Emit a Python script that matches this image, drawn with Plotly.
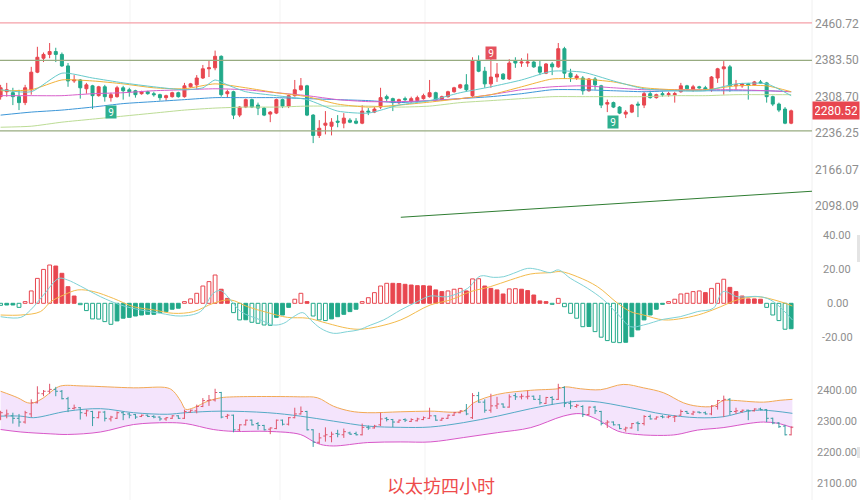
import math
import plotly.graph_objects as go

# ---------------- data ----------------
opens = [2309,2319,2317,2309,2297,2323,2359,2388,2396,2402,2396,2372,2341,2343,2325,2331,2311,2329,2307,2309,
         2327,2323,2321,2315,2319,2315,2313,2307,2309,2317,2309,2329,2333,2347,2366,2368,2392,2315,2319,2272,
         2288,2303,2292,2286,2274,2276,2303,2290,2311,2323,2331,2272,2232,2252,2250,2260,2256,2262,2260,2256,
         2280,2278,2288,2309,2305,2297,2305,2299,2301,2305,2309,2317,2303,2309,2319,2327,2333,2311,2382,2361,
         2335,2349,2355,2345,2382,2378,2378,2380,2370,2357,2376,2370,2408,2357,2347,2347,2321,2345,2331,2294,
         2297,2288,2274,2278,2294,2292,2315,2307,2315,2313,2313,2319,2331,2323,2329,2327,2323,2347,2366,2370,
         2331,2331,2335,2333,2339,2337,2309,2294,2284,2256]
highs = [2333,2337,2327,2323,2333,2370,2412,2400,2420,2410,2400,2378,2353,2345,2337,2333,2331,2333,2317,2331,
         2331,2327,2323,2321,2321,2319,2315,2313,2319,2319,2337,2337,2353,2374,2384,2404,2394,2323,2321,2290,
         2305,2305,2297,2288,2280,2305,2305,2313,2343,2347,2333,2274,2262,2280,2266,2272,2276,2266,2266,2292,
         2286,2288,2327,2313,2307,2305,2309,2309,2311,2315,2343,2319,2311,2321,2329,2335,2355,2390,2394,2370,
         2388,2378,2357,2386,2390,2388,2398,2382,2384,2378,2380,2420,2412,2366,2355,2351,2347,2349,2333,2303,
         2299,2290,2282,2294,2299,2319,2321,2315,2319,2319,2319,2337,2333,2333,2331,2331,2351,2368,2382,2374,
         2343,2337,2337,2341,2343,2339,2311,2297,2288,2283]
lows = [2303,2309,2292,2282,2292,2313,2357,2380,2388,2380,2370,2329,2337,2305,2315,2284,2309,2299,2299,2307,
        2303,2309,2307,2313,2313,2309,2301,2301,2307,2307,2307,2327,2325,2345,2349,2363,2309,2307,2264,2268,
        2286,2286,2272,2270,2258,2274,2286,2286,2309,2321,2270,2217,2227,2234,2232,2248,2246,2256,2254,2254,
        2272,2276,2284,2299,2280,2294,2297,2297,2299,2303,2307,2301,2301,2307,2317,2325,2319,2307,2359,2327,
        2327,2339,2343,2343,2368,2370,2370,2368,2353,2355,2353,2368,2345,2339,2343,2313,2319,2323,2286,2278,
        2286,2274,2266,2276,2268,2286,2305,2305,2309,2309,2297,2317,2323,2319,2325,2321,2319,2337,2313,2319,
        2323,2327,2303,2331,2335,2297,2290,2278,2254,2254]
closes = [2327,2323,2309,2297,2327,2359,2390,2396,2402,2396,2372,2341,2343,2327,2333,2311,2329,2309,2313,2327,
          2321,2319,2313,2319,2315,2313,2307,2311,2317,2309,2331,2335,2347,2366,2368,2392,2313,2319,2272,2288,
          2303,2288,2286,2272,2278,2303,2290,2311,2323,2331,2272,2232,2246,2256,2258,2258,2266,2258,2256,2280,
          2278,2284,2307,2305,2297,2303,2303,2305,2307,2311,2317,2303,2309,2319,2327,2333,2323,2382,2361,2335,
          2349,2355,2345,2378,2378,2380,2380,2370,2359,2376,2370,2408,2357,2349,2351,2321,2345,2333,2292,2297,
          2288,2276,2278,2292,2292,2315,2307,2313,2313,2315,2315,2331,2325,2329,2327,2323,2349,2366,2370,2331,
          2333,2335,2333,2339,2337,2309,2294,2282,2256,2280.52]
idx = list(range(len(closes)))

# moving averages on the candle panel (read at sample indices)
ma_idx = [0,5,10,15,20,25,30,35,40,45,50,55,60,65,70,75,80,85,90,95,100,105,110,115,120,125,129]
ma_fast_idx = [0,5,10,15,20,25,30,33,35,37,40,45,50,55,60,65,70,75,80,85,90,95,100,105,110,115,120,125,129]
ma_fast = [2323,2319,2357,2347,2337,2329,2323,2327,2343,2333,2319,2311,2303,2280,2276,2292,2301,2317,2329,2343,
           2361,2359,2341,2325,2321,2321,2335,2335,2311]
ma_orange = [2321,2323,2343,2341,2335,2327,2325,2335,2327,2317,2309,2294,2288,2292,2298,2305,2313,2329,2345,2345,
             2339,2327,2323,2323,2331,2331,2319]
ma_magenta = [2311,2311,2311,2315,2317,2321,2323,2325,2323,2317,2311,2303,2299,2299,2301,2305,2313,2323,2329,2331,
              2327,2323,2323,2323,2323,2321,2319]
ma_blue = [2272,2278,2282,2288,2295,2299,2303,2307,2307,2307,2305,2303,2301,2297,2301,2305,2309,2315,2323,2323,
           2321,2319,2321,2321,2321,2321,2319]
ma_lgreen = [2248,2250,2258,2264,2270,2276,2282,2286,2288,2288,2290,2290,2290,2288,2290,2297,2301,2305,2309,2309,
             2309,2309,2311,2311,2313,2313,2313]

# level lines and trend line
level_pink = 2463.0
level_green = [2383.5, 2241.0]
trend_idx = [65.3, 132.4]
trend_price = [2077.6, 2125.5]
last_price = 2280.52
main_ticks = [2460.72, 2383.50, 2308.70, 2236.25, 2166.07, 2098.09]

# TD sequential marks
td_idx = [18, 80, 100]
td_price = [2278, 2400, 2258]
td_up = [False, True, False]

# MACD
macd_hist = [-1.2,-1.0,-1.0,-2.4,1.0,7.3,14.7,20.0,22.6,22.0,17.7,9.8,4.3,-0.8,-4.3,-9.2,-9.3,-10.8,-12.4,-10.4,
             -8.8,-8.3,-7.5,-6.9,-6.5,-6.5,-5.5,-4.9,-3.5,-2.9,1.0,2.6,5.9,10.2,12.8,16.7,8.3,2.9,-5.5,-9.8,
             -9.7,-11.2,-11.8,-12.8,-13.0,-8.3,-6.9,-2.4,2.4,5.9,1.0,-7.5,-9.8,-10.2,-9.2,-7.9,-6.5,-4.9,-3.5,1.0,
             3.3,6.3,10.2,11.8,11.8,11.7,11.2,10.8,10.4,10.4,10.2,7.9,6.9,7.3,8.3,8.8,7.3,14.4,14.5,10.2,
             8.8,7.9,5.5,8.5,8.6,8.3,7.5,4.9,1.4,1.0,-0.6,2.9,-2.0,-5.9,-8.8,-13.8,-13.7,-16.7,-20.0,-22.0,
             -23.0,-23.2,-23.0,-19.7,-15.7,-9.8,-6.9,-3.5,-0.6,1.0,2.4,5.5,5.9,6.9,7.3,6.3,8.8,11.8,14.2,9.4,
             6.9,4.3,2.6,2.6,2.4,-2.4,-6.9,-10.2,-15.3,-15.0]
dif_idx = [0,3.3,4.9,7,9.5,10.9,13,16.3,19.6,22.8,26.1,29.4,32.6,34.7,35.9,37.5,39.2,42.4,44.5,46.2,47.8,49.3,
           50.6,52.2,54.3,56.6,58.4,60.4,62.5,65.3,68,70.1,72.9,76.2,78.3,80.4,82.1,83.7,86,87.6,89.7,91,93,
           95.8,98.4,101.1,102.8,104.9,108.2,110.9,113.7,116.3,117.9,120.2,124,126.1,129.2]
dif = [-7.9,-8.3,-3.9,4.9,14.7,13.8,10.2,3.9,-1,-3.9,-5.9,-7.5,-4.9,5.9,7.5,2,-4.9,-9.8,-12.8,-11.8,-7.9,-5.5,
       -9.8,-14.7,-17.7,-16.7,-15.7,-12.8,-9.8,-3.9,1,4.3,3.9,8.8,16.1,15.3,15.7,17.7,20.6,20,18.1,19.7,14.7,
       8.8,2,-7.9,-13.8,-12.8,-9.4,-7.9,-4.9,-2.9,6.9,3.9,3.9,1,-9.8]
dea_idx = [0,3.3,6.5,8.2,10.3,12.6,15.2,18.4,21.7,25,28.2,31.5,34.7,37.5,40.3,43.6,46.8,50.1,53.3,56.6,58.7,
           61.5,65.3,70.1,73.4,76.7,79.9,83.2,86.5,89.7,91.4,94.1,97.4,100.7,102.8,104.9,108.2,111.4,114.7,
           117.5,120.2,123.5,127.2,129.2]
dea = [-6.9,-6.9,-4.9,1,4.9,7.9,6.9,2.9,-2,-3.9,-5.9,-4.9,0,2,-2,-5.5,-8.3,-8.8,-11.8,-14.7,-15.3,-13.8,-9.8,
       -1,2,6.9,9.8,13.8,17.3,18.1,18.7,15.7,9.8,0,-4.9,-6.9,-9.8,-8.8,-5.9,-2,2,3.9,1,-1.6]
macd_ticks = [40, 20, 0, -20]

# Bollinger bands
bb_up_idx = [0,2.8,4.4,5.4,7.0,8.6,9.8,13.5,21.7,27.2,28.2,29.4,30.2,31.5,33.8,35.9,38.0,48.9,51.7,54.3,57.1,
             59.9,65.3,70.1,75.5,77.2,81.1,86.5,90.9,92.2,94.6,97.9,101.6,104.9,108.2,111.4,113.7,116.3,117.9,
             119.1,124.5,127.2,129.2]
bb_up = [2396,2375,2359,2359,2375,2400,2413,2413,2407,2407,2396,2364,2338,2343,2364,2375,2378,2378,2375,2348,2332,
         2327,2330,2332,2332,2359,2386,2399,2404,2410,2404,2401,2418,2407,2391,2359,2348,2348,2366,2367,2361,2367,2370]
bb_mid_idx = [0,3.3,5.4,10.9,16.3,21.7,27.2,30.2,35.9,43.6,48.9,54.3,59.9,65.3,70.1,75.5,81.1,86.5,91.8,96.2,
              102.8,108.2,113.7,117.9,121.9,124.5,129.2]
bb_mid = [2316,2316,2311,2332,2340,2327,2322,2327,2332,2327,2316,2300,2284,2280,2281,2295,2316,2340,2359,2364,
          2343,2322,2311,2314,2332,2335,2325]
bb_low_idx = [0,3.3,8.2,10.9,16.3,21.7,27.2,30.2,34.7,38.0,43.6,48.9,50.9,52.2,54.3,59.9,65.3,70.1,75.5,81.1,
              86.5,91.8,94.6,97.4,100.7,103.9,108.2,110.4,113.7,117.9,122.3,124.5,126.8,129.2]
bb_low = [2273,2265,2259,2257,2265,2289,2295,2292,2273,2267,2267,2257,2236,2225,2220,2231,2233,2233,2247,2263,
          2279,2316,2324,2305,2268,2257,2254,2257,2271,2279,2293,2297,2293,2279]
bb_ticks = [2400, 2300, 2200, 2100]

title_text = "以太坊四小时"

# ---------------- styles ----------------
RED = "#e8464f"
GREEN = "#22a98a"
W, H = 860, 500
PLOT_R = 812
XR = [-0.1, 132.4]
FONT = "Roboto"
LBL = "#8e8e8e"
TICK = 0.35

fig = go.Figure()

# main panel -------------------------------------------------
fig.add_trace(go.Scatter(x=[XR[0], XR[1]], y=[level_pink]*2, mode="lines",
                         line=dict(color="#f5a0a8", width=1.2), xaxis="x", yaxis="y"))
for lv in level_green:
    fig.add_trace(go.Scatter(x=[XR[0], XR[1]], y=[lv]*2, mode="lines",
                             line=dict(color="#97ab80", width=1.3), xaxis="x", yaxis="y"))
fig.add_trace(go.Scatter(x=trend_idx, y=trend_price, mode="lines",
                         line=dict(color="#2f7d32", width=1), xaxis="x", yaxis="y"))
ma_specs = [(ma_idx, ma_lgreen, "#bcdc95"), (ma_idx, ma_blue, "#3d97d8"),
            (ma_idx, ma_magenta, "#d85fcb"), (ma_idx, ma_orange, "#f2b23a"),
            (ma_fast_idx, ma_fast, "#66cacb")]
for xs, ys, c in ma_specs:
    fig.add_trace(go.Scatter(x=xs, y=ys, mode="lines", line=dict(color=c, width=1, shape="spline", smoothing=0.6),
                             xaxis="x", yaxis="y"))
fig.add_trace(go.Candlestick(x=idx, open=opens, high=highs, low=lows, close=closes,
                             increasing=dict(line=dict(color=RED, width=1), fillcolor=RED),
                             decreasing=dict(line=dict(color=GREEN, width=1), fillcolor=GREEN),
                             whiskerwidth=0, xaxis="x", yaxis="y"))

# MACD panel -------------------------------------------------
fills, lines_c = [], []
prev = 0.0
for h in macd_hist:
    col = RED if h >= 0 else GREEN
    growing = (h * prev <= 0) or (abs(h) > abs(prev))
    fills.append("#ffffff" if growing else col)
    lines_c.append(col)
    prev = h
fig.add_trace(go.Bar(x=idx, y=macd_hist, width=0.62,
                     marker=dict(color=fills, line=dict(color=lines_c, width=1)),
                     xaxis="x2", yaxis="y2"))
fig.add_trace(go.Scatter(x=dea_idx, y=dea, mode="lines", line=dict(color="#f3bb4c", width=1, shape="spline"),
                         xaxis="x2", yaxis="y2"))
fig.add_trace(go.Scatter(x=dif_idx, y=dif, mode="lines", line=dict(color="#7fd2d6", width=1, shape="spline"),
                         xaxis="x2", yaxis="y2"))

# Bollinger panel --------------------------------------------
fig.add_trace(go.Scatter(x=bb_up_idx + bb_low_idx[::-1], y=bb_up + bb_low[::-1], mode="lines",
                         fill="toself", fillcolor="#f4e4fc", line=dict(width=0, color="rgba(0,0,0,0)"),
                         xaxis="x3", yaxis="y3"))
fig.add_trace(go.Scatter(x=bb_up_idx, y=bb_up, mode="lines", line=dict(color="#f2a955", width=1, shape="spline"),
                         xaxis="x3", yaxis="y3"))
fig.add_trace(go.Scatter(x=bb_low_idx, y=bb_low, mode="lines", line=dict(color="#d858c8", width=1, shape="spline"),
                         xaxis="x3", yaxis="y3"))
fig.add_trace(go.Scatter(x=bb_mid_idx, y=bb_mid, mode="lines", line=dict(color="#55aac6", width=1, shape="spline"),
                         xaxis="x3", yaxis="y3"))

# OHLC bars drawn as line segments so they sit above the band fill
for up, col in [(True, "#e0566c"), (False, "#3a9ea4")]:
    xs, ys = [], []
    for i, o, h, l, c in zip(idx, opens, highs, lows, closes):
        if (c >= o) != up:
            continue
        xs += [i, i, None, i - TICK, i, None, i, i + TICK, None]
        ys += [l, h, None, o, o, None, c, c, None]
    fig.add_trace(go.Scatter(x=xs, y=ys, mode="lines", line=dict(color=col, width=1),
                             connectgaps=False, xaxis="x3", yaxis="y3"))

# ---------------- layout ----------------
xdom = [0, PLOT_R / W]
ax_common = dict(domain=xdom, range=XR, visible=False, showgrid=False, zeroline=False, fixedrange=True)
main_range = [math.log10(2063.6), math.log10(2512.9)]
fig.update_layout(
    width=W, height=H, margin=dict(l=0, r=0, t=0, b=0),
    paper_bgcolor="white", plot_bgcolor="white", showlegend=False, hovermode=False,
    xaxis=dict(**ax_common, anchor="y", rangeslider=dict(visible=False)),
    xaxis2=dict(**ax_common, anchor="y2"),
    xaxis3=dict(**ax_common, anchor="y3"),
    yaxis=dict(type="log", domain=[0.55, 1.0], range=main_range, showgrid=False, zeroline=False,
               showticklabels=False, anchor="x"),
    yaxis2=dict(domain=[0.29, 0.55], range=[-30.5, 46.2], showgrid=False, zeroline=False,
                showticklabels=False, anchor="x2"),
    yaxis3=dict(domain=[0.0, 0.28], range=[2046.3, 2496.5], showgrid=False, zeroline=False,
                showticklabels=False, anchor="x3"),
    font=dict(family=FONT),
)

shapes = []
for px in [130, 280, 425]:
    shapes.append(dict(type="line", xref="paper", yref="paper", x0=px / W, x1=px / W, y0=0, y1=1,
                       line=dict(color="#f3f3f3", width=1), layer="below"))
shapes.append(dict(type="line", xref="paper", yref="paper", x0=PLOT_R / W, x1=PLOT_R / W, y0=0, y1=1,
                   line=dict(color="#f0f0f0", width=1), layer="below"))
shapes.append(dict(type="rect", xref="paper", yref="paper", x0=857 / W, x1=1, y0=1 - 262 / H, y1=1 - 235 / H,
                   fillcolor="#e4e4e4", line=dict(width=0)))
shapes.append(dict(type="rect", xref="paper", yref="paper", x0=857 / W, x1=1, y0=1 - 458 / H, y1=1 - 447 / H,
                   fillcolor="#e4e4e4", line=dict(width=0)))
fig.update_layout(shapes=shapes)

ann = []
lx = 837 / W
for v in main_ticks:
    ann.append(dict(x=lx, xref="paper", y=math.log10(v), yref="y", text=f"{v:.2f}", showarrow=False,
                    xanchor="center", yanchor="middle", font=dict(size=12, color=LBL, family=FONT)))
for v in macd_ticks:
    ann.append(dict(x=lx, xref="paper", y=v, yref="y2", text=f"{v:.2f}", showarrow=False,
                    xanchor="center", yanchor="middle", font=dict(size=11, color=LBL, family=FONT)))
for v in bb_ticks:
    ann.append(dict(x=lx, xref="paper", y=v, yref="y3", text=f"{v:.2f}", showarrow=False,
                    xanchor="center", yanchor="middle", font=dict(size=11, color=LBL, family=FONT)))
ann.append(dict(x=1.0, xref="paper", y=math.log10(last_price), yref="y", text=f"{last_price:.2f}",
                showarrow=False, xanchor="right", yanchor="middle", bgcolor=RED, borderpad=2,
                width=42, height=13, font=dict(size=12, color="white", family=FONT)))
for i, p, up in zip(td_idx, td_price, td_up):
    ann.append(dict(x=i, xref="x", y=math.log10(p), yref="y", text="9", showarrow=False,
                    xanchor="center", yanchor="middle", bgcolor=("#e5515d" if up else "#2eb08f"),
                    width=8, height=10, borderpad=1, font=dict(size=10, color="white", family=FONT)))
ann.append(dict(x=441 / W, xref="paper", y=1 - 485 / H, yref="paper", text=title_text, showarrow=False,
                xanchor="center", yanchor="middle",
                font=dict(size=18, color="#ee4b4b", family="Noto Sans CJK SC")))
fig.update_layout(annotations=ann)

fig.write_html("out.html")
